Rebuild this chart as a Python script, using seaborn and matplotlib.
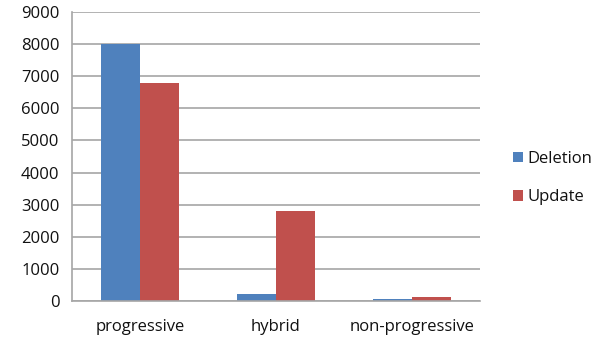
import matplotlib
matplotlib.use("Agg")
import matplotlib.pyplot as plt
import seaborn as sns
import pandas as pd
from matplotlib.patches import Patch

categories = ["progressive", "hybrid", "non-progressive"]
series = ["Deletion", "Update"]
deletion = [8000, 220, 70]
update = [6800, 2800, 115]
yticks = [0, 1000, 2000, 3000, 4000, 5000, 6000, 7000, 8000, 9000]
colors = ["#4F81BD", "#C0504D"]

df = pd.DataFrame({
    "category": categories * 2,
    "series": [series[0]] * 3 + [series[1]] * 3,
    "value": deletion + update,
})

sns.set_theme(style="white")
plt.rcParams["font.family"] = ["Open Sans", "DejaVu Sans"]

fig = plt.figure(figsize=(6.06, 3.48), dpi=100)
ax = fig.add_axes([72 / 606, 47 / 348, 408 / 606, 289 / 348])

sns.barplot(data=df, x="category", y="value", hue="series", order=categories,
            hue_order=series, palette=colors, width=0.575, ax=ax,
            saturation=1, legend=False, edgecolor="none")

grid_c = "#a6a6a6"
ax.set_xlim(-0.5, 2.5)
ax.set_ylim(0, 9000)
ax.set_yticks(yticks)
ax.set_yticklabels([str(v) for v in yticks], fontsize=12, color="#111111")
ax.yaxis.grid(True, color=grid_c, linewidth=1.2)
ax.set_axisbelow(True)
ax.set_xlabel("")
ax.set_ylabel("")

ax.set_xticks(range(len(categories)))
ax.set_xticklabels(categories, fontsize=12, color="#111111")
ax.tick_params(axis="x", which="major", length=0, pad=13)
ax.set_xticks([-0.5, 0.5, 1.5, 2.5], minor=True)
ax.tick_params(axis="x", which="minor", length=5, color=grid_c, width=1.2)
ax.tick_params(axis="y", length=6, color=grid_c, width=1.2, pad=3)

for side in ["top", "right"]:
    ax.spines[side].set_visible(False)
for side in ["left", "bottom"]:
    ax.spines[side].set_color(grid_c)
    ax.spines[side].set_linewidth(1.2)

handles = [Patch(facecolor=c, edgecolor="none") for c in colors]
fig.legend(handles, series, loc="center left", bbox_to_anchor=(498 / 606, 1 - 178 / 348),
           frameon=False, fontsize=12, handlelength=0.6, handleheight=0.6,
           handletextpad=0.25, labelspacing=1.35, labelcolor="#111111")

fig.savefig("out.png", dpi=100)
